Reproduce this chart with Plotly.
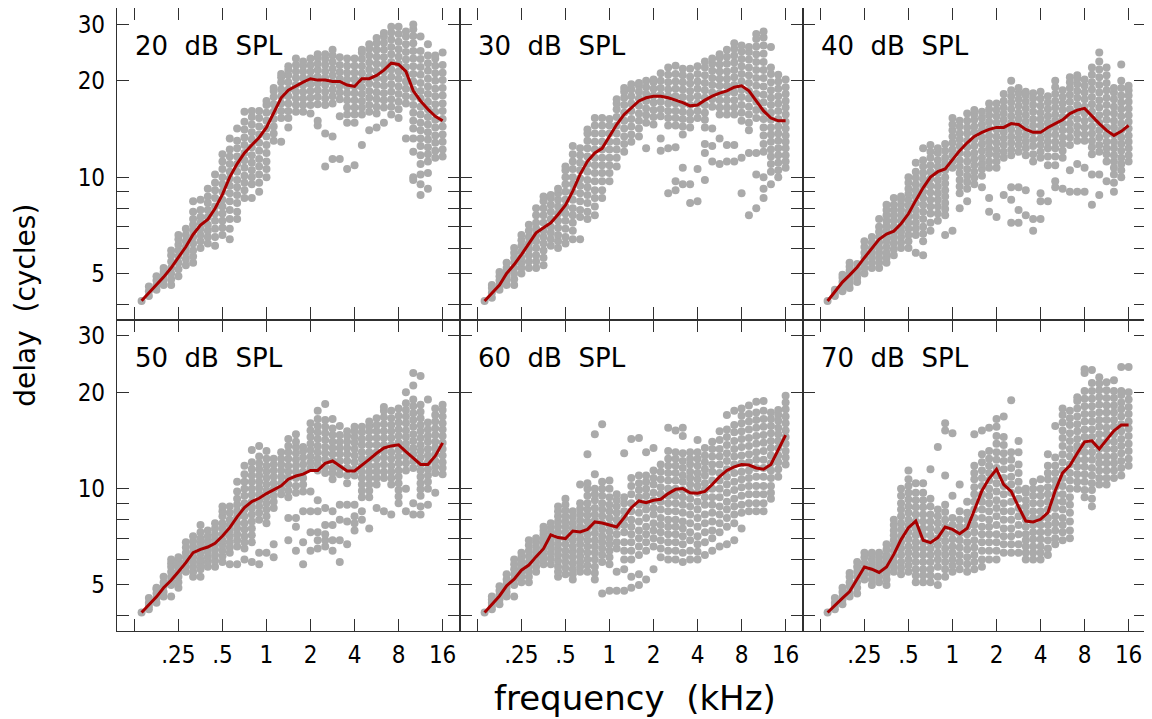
import math
import plotly.graph_objects as go
from plotly.subplots import make_subplots

# ---------------- data ----------------
freq_khz = [0.14, 0.157, 0.177, 0.198, 0.223, 0.25, 0.281, 0.315, 0.354, 0.397,
            0.445, 0.5, 0.561, 0.63, 0.707, 0.794, 0.891, 1.0, 1.12, 1.26,
            1.41, 1.59, 1.78, 2.0, 2.24, 2.52, 2.83, 3.17, 3.56, 4.0,
            4.49, 5.04, 5.66, 6.35, 7.13, 8.0, 8.98, 10.08, 11.31, 12.7,
            14.25, 16.0]

levels = ["20  dB  SPL", "30  dB  SPL", "40  dB  SPL",
          "50  dB  SPL", "60  dB  SPL", "70  dB  SPL"]

x_tick_vals = [0.125, 0.25, 0.5, 1, 2, 4, 8, 16]
x_tick_text = ["", ".25", ".5", "1", "2", "4", "8", "16"]
y_tick_vals = [4, 5, 6, 7, 8, 9, 10, 20, 30]
y_tick_text = ["", "5", "", "", "", "", "10", "20", "30"]

med20 = [4.11, 4.35, 4.6, 4.87, 5.21, 5.6, 6.06, 6.62, 7.08, 7.38, 7.98, 8.83, 10.0, 11.0,
         11.9, 12.6, 13.3, 14.3, 15.9, 17.7, 18.7, 19.3, 19.8, 20.3, 20.1, 20.1, 19.9, 19.9,
         19.4, 19.2, 20.3, 20.3, 20.8, 21.6, 22.7, 22.5, 21.4, 18.6, 17.3, 16.3, 15.5, 15.0]
med30 = [4.1, 4.35, 4.6, 5.0, 5.33, 5.73, 6.19, 6.7, 6.95, 7.2, 7.64, 8.17, 9.04, 10.2,
         11.2, 11.9, 12.3, 13.4, 14.6, 15.7, 16.5, 17.3, 17.7, 17.9, 17.9, 17.7, 17.4, 17.1,
         16.7, 16.8, 17.4, 17.9, 18.3, 18.6, 19.1, 19.3, 18.6, 17.3, 16.1, 15.3, 15.0, 15.0]
med40 = [4.1, 4.4, 4.7, 4.94, 5.23, 5.6, 6.0, 6.39, 6.64, 6.78, 7.15, 7.68, 8.46, 9.26,
         10.0, 10.4, 10.6, 11.3, 12.1, 12.8, 13.4, 13.8, 14.1, 14.3, 14.3, 14.7, 14.6, 14.1,
         13.8, 13.8, 14.3, 14.7, 15.1, 15.8, 16.2, 16.4, 15.5, 14.7, 14.0, 13.5, 13.9, 14.5]
med50 = [4.1, 4.33, 4.59, 4.9, 5.17, 5.5, 5.87, 6.31, 6.46, 6.57, 6.75, 7.11, 7.55, 8.16,
         8.72, 9.11, 9.33, 9.65, 9.9, 10.2, 10.7, 10.95, 11.1, 11.4, 11.4, 12.0, 12.2, 11.8,
         11.35, 11.35, 11.8, 12.35, 12.9, 13.4, 13.6, 13.7, 13.05, 12.5, 11.9, 11.9, 12.65, 13.9]
med60 = [4.1, 4.35, 4.62, 4.97, 5.21, 5.56, 5.77, 6.13, 6.49, 7.17, 7.03, 6.98, 7.37, 7.32,
         7.46, 7.87, 7.81, 7.7, 7.59, 8.12, 8.72, 9.15, 9.04, 9.2, 9.26, 9.65, 9.95, 10.0,
         9.7, 9.67, 9.8, 10.3, 10.9, 11.4, 11.7, 11.9, 11.85, 11.6, 11.5, 11.9, 13.2, 14.7]
med70 = [4.1, 4.33, 4.55, 4.77, 5.21, 5.69, 5.6, 5.47, 5.69, 6.23, 6.93, 7.55, 7.92, 6.9,
         6.78, 7.03, 7.59, 7.46, 7.23, 7.52, 8.56, 9.85, 10.75, 11.5, 10.3, 9.8, 8.77, 7.92,
         7.87, 8.02, 8.41, 9.85, 11.2, 11.8, 12.9, 14.0, 14.1, 13.3, 14.2, 15.15, 15.8, 15.8]

dots20 = [
    [4.1], [4.25, 4.4, 4.55], [4.45, 4.6, 4.75, 4.9], [4.6, 4.75, 4.9, 5.05, 5.2],
    [4.6, 4.8, 5.0, 5.2, 5.45, 5.7, 5.9], [4.9, 5.15, 5.4, 5.65, 5.9, 6.15, 6.4, 6.6],
    [5.3, 5.55, 5.8, 6.05, 6.3, 6.6, 6.9], [5.4, 5.65, 5.9, 6.2, 6.5, 6.8, 7.1, 7.4, 7.8, 8.4],
    [6.0, 6.3, 6.6, 6.9, 7.2, 7.5, 7.9, 8.5], [6.2, 6.5, 6.8, 7.1, 7.5, 7.9, 8.3, 8.7, 9.2],
    [6.1, 6.5, 6.9, 7.3, 7.7, 8.1, 8.6, 9.1, 9.6, 10.2],
    [6.6, 6.95, 7.3, 7.7, 8.1, 8.5, 9.0, 9.5, 10.0, 10.6, 11.2, 11.8],
    [6.4, 6.9, 7.4, 7.9, 8.4, 8.9, 9.4, 9.9, 10.4, 11.0, 11.6, 12.2, 13.2],
    [7.4, 7.8, 8.3, 8.8, 9.3, 9.8, 10.4, 11.0, 11.6, 12.3, 13.0, 14.2],
    [8.6, 9.1, 9.6, 10.1, 10.7, 11.3, 11.9, 12.6, 13.3, 14.1, 14.9, 16.0],
    [8.6, 9.5, 10.0, 10.5, 11.1, 11.7, 12.4, 13.1, 13.8, 14.6, 15.4, 16.1],
    [9.0, 9.6, 10.2, 10.8, 11.4, 12.1, 12.8, 13.6, 14.4, 15.3, 16.1],
    [10.0, 10.6, 11.2, 11.9, 12.6, 13.4, 14.2, 15.0, 15.9, 16.8, 17.3],
    [13.0, 13.7, 14.4, 15.2, 16.0, 16.9, 17.8, 18.6, 19.0],
    [12.9, 15.3, 16.1, 17.0, 17.9, 18.8, 19.8, 20.5, 21.0],
    [14.3, 15.3, 16.1, 17.0, 17.9, 18.8, 19.8, 20.8, 21.6, 22.2],
    [16.0, 16.8, 17.6, 18.5, 19.4, 20.4, 21.4, 22.4, 23.5],
    [16.0, 16.8, 17.6, 18.5, 19.4, 20.4, 21.4, 22.3, 23.0],
    [15.8, 16.8, 17.7, 18.6, 19.5, 20.4, 21.4, 22.4, 23.5],
    [14.5, 15.0, 16.9, 17.8, 18.7, 19.6, 20.6, 21.6, 22.6, 23.6, 24.2],
    [10.8, 13.7, 16.8, 17.6, 18.5, 19.4, 20.4, 21.4, 22.4, 23.4, 24.2],
    [11.4, 13.4, 17.0, 17.9, 18.8, 19.8, 20.8, 21.8, 22.9, 24.0, 25.0],
    [11.4, 15.5, 17.5, 18.4, 19.3, 20.3, 21.3, 22.4, 23.7],
    [10.6, 14.8, 15.7, 16.5, 17.4, 18.3, 19.2, 20.2, 21.2, 22.3, 23.5],
    [10.9, 14.8, 15.7, 16.5, 17.4, 18.3, 19.2, 20.2, 21.2, 22.3, 23.5],
    [12.6, 15.7, 16.5, 17.3, 18.2, 19.1, 20.1, 21.1, 22.2, 23.4, 24.5, 25.0],
    [14.0, 16.0, 16.8, 17.7, 18.6, 19.6, 20.6, 21.7, 22.8, 24.0, 25.2, 26.0],
    [14.3, 15.8, 16.6, 17.5, 18.4, 19.4, 20.4, 21.5, 22.6, 23.8, 25.0, 26.2, 27.2],
    [14.8, 16.5, 17.4, 18.3, 19.3, 20.3, 21.4, 22.5, 23.7, 25.0, 26.3, 27.5, 28.2],
    [15.7, 16.6, 17.5, 18.5, 19.5, 20.6, 21.7, 22.9, 24.2, 25.5, 26.9, 28.3, 29.5],
    [15.3, 16.3, 17.2, 18.2, 19.2, 20.3, 21.4, 22.6, 23.8, 25.1, 26.5, 28.0, 29.5],
    [13.2, 17.0, 17.9, 18.9, 19.9, 21.0, 22.1, 23.3, 24.6, 26.0, 27.5, 28.5],
    [9.8, 10.0, 12.0, 13.2, 14.2, 15.0, 15.9, 16.8, 17.8, 18.8, 19.9, 21.0, 22.2, 23.5,
     24.8, 26.2, 27.6, 29.0, 30.0],
    [8.8, 9.5, 10.2, 11.0, 11.7, 12.5, 13.2, 14.0, 14.8, 15.7, 16.6, 17.6, 18.6, 19.7,
     20.9, 22.1, 23.4, 24.8, 27.5],
    [9.2, 10.3, 11.2, 11.8, 12.4, 13.1, 13.8, 14.6, 15.4, 16.3, 17.2, 18.2, 19.2, 20.3,
     21.5, 22.7, 24.0, 26.0],
    [11.5, 12.1, 12.8, 13.5, 14.3, 15.1, 16.0, 16.9, 17.9, 18.9, 20.0, 21.1, 22.3, 23.5, 24.0],
    [11.6, 12.2, 12.9, 13.6, 14.4, 15.2, 16.1, 17.0, 18.0, 19.0, 20.1, 21.2, 22.4, 24.5],
]

dots30 = [
    [4.1], [4.2, 4.35, 4.5, 4.6], [4.45, 4.6, 4.75, 4.9, 5.05], [4.6, 4.75, 4.9, 5.05, 5.2, 5.4],
    [4.6, 4.8, 5.0, 5.2, 5.4, 5.6, 5.8, 6.0], [5.0, 5.2, 5.4, 5.6, 5.85, 6.1, 6.35, 6.6],
    [5.2, 5.45, 5.7, 5.95, 6.2, 6.5, 6.8, 7.1], [5.2, 5.45, 5.7, 6.0, 6.3, 6.6, 6.9, 7.2, 7.6, 8.0],
    [5.3, 5.6, 5.9, 6.2, 6.5, 6.8, 7.2, 7.6, 8.0, 8.4, 8.7],
    [6.1, 6.4, 6.7, 7.0, 7.4, 7.8, 8.2, 8.6, 8.8],
    [6.0, 6.3, 6.6, 6.95, 7.3, 7.7, 8.1, 8.5, 8.9, 9.2],
    [6.2, 6.5, 6.9, 7.3, 7.7, 8.1, 8.5, 9.0, 9.5, 10.0, 10.5, 10.8],
    [6.4, 6.8, 7.2, 7.6, 8.0, 8.5, 9.0, 9.5, 10.0, 10.6, 11.2, 11.8, 12.5],
    [6.4, 7.5, 7.9, 8.4, 8.9, 9.4, 9.9, 10.5, 11.1, 11.7, 12.3],
    [7.4, 7.8, 8.3, 8.8, 9.3, 9.8, 10.4, 11.0, 11.6, 12.3, 13.0, 13.7, 14.1],
    [7.6, 8.1, 8.6, 9.1, 9.7, 10.3, 10.9, 11.5, 12.2, 12.9, 13.7, 14.5, 15.3],
    [8.6, 9.1, 9.7, 10.3, 10.9, 11.5, 12.2, 12.9, 13.7, 14.5, 15.3],
    [9.7, 10.3, 10.9, 11.5, 12.2, 12.9, 13.7, 14.5, 15.2],
    [10.8, 11.5, 12.2, 12.9, 13.7, 14.5, 15.4, 16.3, 17.0, 17.5],
    [12.0, 12.7, 13.4, 14.2, 15.0, 15.9, 16.8, 17.7, 18.5, 19.0],
    [12.9, 13.6, 14.4, 15.2, 16.1, 17.0, 17.9, 18.8, 19.5],
    [13.4, 14.2, 15.0, 15.8, 16.7, 17.6, 18.5, 19.3, 19.7],
    [12.3, 14.8, 15.6, 16.4, 17.3, 18.2, 19.1, 20.0],
    [14.6, 15.4, 16.2, 17.1, 18.0, 18.9, 19.8, 20.2],
    [12.1, 13.2, 15.5, 16.3, 17.2, 18.1, 19.0, 20.0, 21.1],
    [8.9, 12.3, 14.5, 15.3, 16.1, 17.0, 17.9, 18.8, 19.8, 20.9, 22.0],
    [9.1, 9.7, 12.4, 14.5, 15.3, 16.1, 17.0, 17.9, 18.9, 19.9, 21.0, 22.3],
    [9.5, 10.7, 13.6, 14.4, 15.2, 16.0, 16.9, 17.8, 18.8, 19.8, 20.8, 21.8],
    [8.3, 9.5, 14.3, 15.1, 15.9, 16.8, 17.7, 18.6, 19.6, 20.6, 21.8],
    [8.4, 10.6, 15.3, 16.1, 17.0, 17.9, 18.9, 19.9, 21.0, 22.2],
    [9.8, 11.9, 12.7, 14.3, 15.1, 15.9, 16.8, 17.7, 18.7, 19.7, 20.8, 22.0, 23.0],
    [11.2, 12.5, 14.2, 16.6, 17.5, 18.4, 19.4, 20.4, 21.5, 22.6, 23.5],
    [11.0, 13.2, 15.7, 16.5, 17.4, 18.3, 19.3, 20.3, 21.4, 22.5, 23.6, 24.2],
    [11.2, 12.6, 15.7, 16.5, 17.4, 18.3, 19.3, 20.3, 21.4, 22.6, 23.8, 25.0],
    [11.2, 12.6, 15.7, 16.5, 17.4, 18.4, 19.4, 20.5, 21.6, 22.8, 24.0, 25.2, 26.2],
    [8.9, 11.5, 15.0, 15.9, 16.8, 17.8, 18.8, 19.9, 21.0, 22.2, 23.4, 24.7, 25.8],
    [7.6, 11.9, 14.0, 14.8, 15.7, 16.6, 17.6, 18.6, 19.7, 20.8, 22.0, 23.3, 24.6, 25.5],
    [8.0, 10.2, 11.9, 15.3, 16.2, 17.2, 18.2, 19.3, 20.4, 21.6, 22.9, 24.2, 25.6, 27.0, 28.0],
    [8.6, 9.2, 10.0, 12.0, 12.7, 13.5, 14.3, 15.2, 16.1, 17.1, 18.1, 19.2, 20.4, 21.6,
     22.9, 24.3, 25.8, 27.3, 28.5],
    [9.5, 10.4, 11.0, 11.6, 12.2, 12.9, 13.6, 14.3, 15.1, 15.9, 16.8, 17.7, 18.7, 19.8,
     21.0, 22.0, 25.5],
    [10.0, 10.5, 11.1, 11.7, 12.3, 13.0, 13.7, 14.4, 15.2, 16.1, 17.0, 17.9, 18.9, 19.9, 20.9],
    [10.7, 11.2, 11.7, 12.3, 12.9, 13.5, 14.2, 14.9, 15.7, 16.5, 17.3, 18.2, 19.1, 20.2],
]

dots40 = [
    [4.1], [4.25, 4.35, 4.45], [4.4, 4.55, 4.7, 4.85, 4.95], [4.5, 4.65, 4.8, 4.95, 5.1, 5.25, 5.4],
    [4.7, 4.85, 5.0, 5.15, 5.35], [5.0, 5.2, 5.4, 5.6, 5.8, 6.05, 6.3],
    [5.2, 5.4, 5.6, 5.8, 6.0, 6.25, 6.5], [5.2, 5.4, 5.6, 5.8, 6.0, 6.25, 6.5, 6.75, 7.0, 7.4],
    [5.4, 5.6, 5.8, 6.05, 6.3, 6.55, 6.8, 7.05, 7.3, 7.6, 7.9, 8.2],
    [5.7, 5.95, 6.2, 6.45, 6.7, 7.0, 7.3, 7.6, 7.9, 8.2, 8.6],
    [6.0, 6.25, 6.5, 6.75, 7.0, 7.3, 7.6, 7.9, 8.2, 8.5, 8.7],
    [6.0, 6.3, 6.6, 6.9, 7.2, 7.5, 7.8, 8.15, 8.5, 8.85, 9.2, 9.6, 10.0],
    [5.8, 6.6, 6.9, 7.2, 7.55, 7.9, 8.3, 8.7, 9.1, 9.5, 9.95, 10.4, 11.1],
    [5.7, 6.3, 6.65, 7.0, 7.4, 7.8, 8.2, 8.6, 9.0, 9.4, 9.85, 10.3, 10.8, 11.3, 12.3],
    [6.8, 7.2, 7.7, 8.1, 8.5, 8.95, 9.4, 9.9, 10.4, 10.9, 11.5, 12.0, 12.6],
    [7.3, 7.7, 8.1, 8.5, 8.9, 9.35, 9.8, 10.3, 10.8, 11.3, 11.9, 12.3],
    [6.6, 7.6, 7.95, 8.3, 8.7, 9.1, 9.55, 10.0, 10.5, 11.0, 11.5, 12.1, 12.7],
    [6.8, 10.7, 11.2, 11.7, 12.2, 12.8, 13.4, 14.0, 14.6, 15.3],
    [8.0, 8.9, 9.35, 9.8, 10.3, 10.8, 11.3, 11.9, 12.5, 13.1, 13.7, 14.4, 15.0],
    [8.4, 9.2, 9.65, 10.1, 10.6, 11.2, 11.8, 12.4, 13.0, 13.7, 14.3, 15.0, 15.8],
    [9.5, 9.95, 10.4, 10.9, 11.4, 11.9, 12.5, 13.1, 13.8, 14.4, 15.1, 15.7, 16.2],
    [9.3, 10.1, 10.6, 11.0, 11.5, 12.1, 12.7, 13.3, 14.0, 14.6, 15.3, 16.0],
    [7.8, 8.6, 10.7, 11.2, 11.8, 12.3, 12.9, 13.5, 14.2, 14.9, 15.6, 16.3, 17.0],
    [7.5, 10.7, 11.2, 11.7, 12.2, 12.8, 13.4, 14.1, 14.8, 15.5, 16.2, 17.0],
    [8.8, 11.5, 12.0, 12.6, 13.2, 13.8, 14.4, 15.1, 15.8, 16.5, 17.3, 18.2],
    [7.2, 8.5, 9.3, 11.7, 12.2, 12.8, 13.4, 14.1, 14.8, 15.5, 16.3, 17.1, 17.9, 18.7, 20.0],
    [7.2, 7.9, 9.3, 12.0, 12.6, 13.2, 13.8, 14.5, 15.2, 15.9, 16.7, 17.5, 18.3, 19.0],
    [7.6, 9.1, 11.7, 12.3, 12.9, 13.5, 14.2, 14.9, 15.6, 16.4, 17.2, 18.0, 18.5],
    [6.8, 7.4, 11.2, 11.8, 12.5, 13.1, 13.8, 14.5, 15.2, 16.0, 16.8, 17.6, 18.3],
    [7.4, 8.4, 8.9, 11.5, 12.0, 12.6, 13.2, 13.8, 14.5, 15.2, 15.9, 16.7, 17.6, 18.5],
    [8.4, 10.9, 11.6, 12.3, 12.9, 13.5, 14.1, 14.8, 15.5, 16.3, 17.1, 17.9],
    [9.3, 9.7, 10.9, 11.6, 12.3, 12.9, 13.6, 14.3, 15.0, 15.7, 16.5, 17.3, 18.2, 19.1, 20.0],
    [9.2, 11.5, 12.1, 12.7, 13.3, 14.0, 14.7, 15.4, 16.2, 17.0, 17.8, 18.7],
    [9.0, 10.5, 12.6, 13.3, 14.0, 14.7, 15.5, 16.3, 17.2, 18.1, 19.0, 19.8, 20.5],
    [9.0, 11.0, 13.0, 13.7, 14.4, 15.2, 16.0, 16.8, 17.7, 18.6, 19.5, 20.3, 20.8],
    [9.0, 10.7, 13.0, 13.6, 14.3, 15.0, 15.8, 16.6, 17.5, 18.4, 19.3, 20.2],
    [8.2, 10.2, 11.8, 12.4, 13.0, 13.7, 14.4, 15.2, 16.0, 16.9, 17.8, 18.8, 19.8, 20.9, 22.0],
    [8.8, 10.2, 12.0, 12.6, 13.3, 14.0, 14.8, 15.6, 16.5, 17.4, 18.4, 19.4, 20.5, 21.7,
     23.0, 24.5],
    [9.7, 11.2, 11.8, 12.3, 12.9, 13.6, 14.3, 15.1, 15.9, 16.8, 17.7, 18.7, 19.7, 20.8, 22.0],
    [9.0, 9.6, 10.2, 10.7, 11.2, 11.7, 12.3, 12.9, 13.6, 14.3, 15.0, 15.8, 16.6, 17.5,
     18.4, 19.0],
    [10.0, 10.5, 11.0, 11.5, 12.1, 12.7, 13.3, 14.0, 14.7, 15.5, 16.3, 17.1, 18.0, 19.0,
     20.0, 22.5],
    [11.2, 11.7, 12.3, 12.9, 13.5, 14.2, 14.9, 15.6, 16.4, 17.2, 18.0, 18.7, 19.3],
]

dots50 = [
    [4.1], [4.2, 4.3, 4.4, 4.55], [4.4, 4.55, 4.7, 4.85, 4.9], [4.6, 4.75, 4.95, 5.1, 5.3],
    [4.6, 5.0, 5.15, 5.3, 5.5, 5.7, 5.85, 6.0], [4.9, 5.1, 5.3, 5.5, 5.7, 5.9, 6.1],
    [5.5, 5.7, 5.9, 6.1, 6.3, 6.55, 6.8], [5.3, 5.5, 5.7, 5.9, 6.1, 6.35, 6.6, 6.85, 7.1],
    [5.3, 5.6, 5.8, 6.0, 6.25, 6.5, 6.75, 7.0, 7.3, 7.7],
    [5.7, 5.9, 6.1, 6.35, 6.6, 6.85, 7.1, 7.4],
    [5.7, 5.95, 6.2, 6.45, 6.7, 6.95, 7.2, 7.5, 7.8],
    [5.9, 6.15, 6.4, 6.65, 6.9, 7.2, 7.5, 7.8, 8.2, 8.5, 8.8],
    [5.8, 6.3, 6.55, 6.8, 7.1, 7.4, 7.7, 8.0, 8.4, 8.8],
    [5.8, 6.6, 6.9, 7.2, 7.5, 7.8, 8.15, 8.5, 8.9, 9.3, 9.8, 10.5],
    [6.0, 6.5, 6.8, 7.1, 7.45, 7.8, 8.2, 8.6, 9.0, 9.5, 10.0, 10.5, 11.1, 11.8],
    [5.9, 6.8, 7.15, 7.5, 7.9, 8.3, 8.7, 9.1, 9.55, 10.0, 10.5, 11.0, 11.5, 12.1, 13.2],
    [5.8, 6.3, 8.0, 8.4, 8.8, 9.2, 9.6, 10.05, 10.5, 11.0, 11.5, 12.0, 12.6, 13.6],
    [6.3, 7.8, 8.2, 8.6, 9.0, 9.4, 9.85, 10.3, 10.8, 11.3, 11.8, 12.4, 13.1],
    [6.1, 6.7, 8.7, 9.1, 9.5, 9.95, 10.4, 10.9, 11.4, 11.9, 12.4],
    [9.6, 10.0, 10.4, 10.9, 11.4, 11.9, 12.4, 13.0],
    [6.9, 8.1, 9.4, 9.85, 10.3, 10.8, 11.3, 11.8, 12.4, 13.0, 13.6, 14.3],
    [6.4, 7.6, 8.1, 9.7, 10.2, 10.8, 11.3, 11.8, 12.3, 12.9, 13.5, 14.0, 14.8],
    [5.8, 6.8, 8.5, 9.8, 10.3, 10.8, 11.3, 11.9, 12.5, 13.1, 13.5],
    [6.4, 7.3, 8.5, 9.8, 11.6, 12.1, 12.6, 13.2, 13.8, 14.5, 15.2, 16.0],
    [6.5, 6.9, 7.3, 8.5, 9.2, 11.4, 11.9, 12.4, 13.0, 13.6, 14.3, 15.0, 15.7, 16.5, 17.5],
    [6.6, 6.9, 7.2, 7.7, 8.7, 11.2, 11.7, 12.3, 12.9, 13.5, 14.2, 14.9, 15.6, 16.4, 18.4],
    [6.4, 6.9, 7.7, 8.5, 10.7, 11.2, 11.6, 12.2, 12.8, 13.4, 14.0, 14.7, 15.4, 16.5],
    [5.9, 6.9, 8.0, 8.9, 11.1, 11.6, 12.2, 12.8, 13.4, 14.0, 14.7, 15.7],
    [6.7, 7.9, 8.9, 10.4, 11.0, 11.6, 12.2, 12.8, 13.4, 14.0, 14.6, 15.1],
    [7.4, 7.8, 8.2, 8.9, 11.0, 11.5, 12.1, 12.7, 13.3, 13.9, 14.5, 15.1, 15.6],
    [8.0, 8.5, 9.4, 9.85, 10.3, 10.8, 11.3, 11.8, 12.4, 13.0, 13.7, 14.3, 15.0, 15.6],
    [7.5, 9.4, 9.85, 10.3, 10.8, 11.3, 11.8, 12.4, 13.0, 13.7, 14.4, 15.1, 15.7, 16.2],
    [8.7, 10.3, 10.8, 11.3, 11.8, 12.4, 13.0, 13.7, 14.4, 15.1, 15.8, 16.6],
    [8.5, 10.8, 11.3, 11.9, 12.5, 13.1, 13.7, 14.4, 15.1, 15.9, 16.7, 17.5, 18.0],
    [8.3, 10.3, 10.8, 11.3, 11.8, 12.4, 13.0, 13.7, 14.4, 15.1, 15.8, 16.6, 17.5],
    [9.0, 9.45, 9.9, 10.4, 10.9, 11.4, 12.0, 12.6, 13.2, 13.9, 14.6, 15.3, 16.1, 16.9, 17.8],
    [8.5, 10.0, 11.4, 12.0, 12.6, 13.2, 13.8, 14.5, 15.2, 16.0, 16.8, 17.6, 18.5, 20.0],
    [8.3, 9.0, 11.6, 12.2, 12.8, 13.4, 14.1, 14.8, 15.6, 16.4, 17.2, 18.1, 19.0, 21.0, 23.0],
    [8.3, 8.8, 9.5, 9.95, 10.4, 10.9, 11.4, 11.9, 12.5, 13.1, 13.7, 14.4, 15.1, 15.8,
     16.6, 17.4, 18.3, 22.5],
    [8.9, 10.0, 10.5, 11.0, 11.5, 12.1, 12.7, 13.3, 14.0, 14.6, 15.3, 16.1, 19.0],
    [9.7, 11.2, 11.7, 12.2, 12.8, 13.4, 14.0, 14.7, 15.4, 16.2, 17.0, 17.8],
    [11.1, 11.6, 12.1, 12.7, 13.3, 13.9, 14.6, 15.3, 16.0, 16.8, 17.6, 18.3],
]

dots60 = [
    [4.1], [4.2, 4.3, 4.4, 4.5, 4.6], [4.35, 4.5, 4.65, 4.8, 4.95], [4.6, 4.75, 4.9, 5.05, 5.2, 5.4],
    [4.6, 5.0, 5.2, 5.4, 5.6, 5.8, 6.0], [5.1, 5.3, 5.5, 5.7, 5.9, 6.1, 6.3],
    [5.1, 5.3, 5.5, 5.7, 5.9, 6.15, 6.4, 6.65, 6.9], [5.5, 5.7, 5.9, 6.1, 6.3, 6.55, 6.8, 7.0],
    [5.8, 6.0, 6.2, 6.45, 6.7, 6.95, 7.2, 7.4, 7.6], [5.8, 6.05, 6.3, 6.55, 6.8, 7.05, 7.3, 7.55, 7.8],
    [5.3, 5.5, 5.7, 5.95, 6.2, 6.45, 6.7, 7.0, 7.3, 7.6, 7.9, 8.2, 8.5, 8.8],
    [5.4, 5.65, 5.9, 6.15, 6.4, 6.7, 7.0, 7.3, 7.6, 7.9, 8.2, 8.55, 8.9, 9.3],
    [5.2, 5.4, 5.6, 5.85, 6.1, 6.35, 6.6, 6.9, 7.2, 7.5, 7.8, 8.15, 8.5],
    [5.5, 5.7, 5.9, 6.15, 6.4, 6.7, 7.0, 7.3, 7.6, 7.95, 8.3, 8.65, 9.0, 10.3],
    [5.5, 5.75, 6.0, 6.3, 6.6, 6.9, 7.2, 7.55, 7.9, 8.25, 8.6, 9.0, 9.5, 10.0, 10.4, 12.8],
    [5.2, 5.45, 5.7, 6.0, 6.3, 6.6, 6.9, 7.25, 7.6, 7.95, 8.3, 8.7, 9.2, 9.6, 10.0, 11.1, 14.8],
    [4.7, 5.9, 6.2, 6.5, 6.8, 7.1, 7.45, 7.8, 8.2, 8.6, 9.0, 9.5, 10.0, 10.5, 15.9],
    [4.8, 5.8, 6.1, 6.4, 6.7, 7.0, 7.35, 7.7, 8.1, 8.5, 8.9, 9.4, 10.0, 10.6],
    [4.8, 5.5, 6.5, 6.8, 7.2, 7.6, 8.0, 8.4, 8.8, 9.2, 9.6],
    [4.8, 5.6, 6.0, 6.4, 6.8, 7.3, 7.7, 8.1, 8.5, 9.0, 9.4, 12.9],
    [4.9, 5.3, 6.0, 6.4, 6.8, 7.2, 7.6, 8.0, 8.5, 9.0, 9.6, 10.2, 10.8, 14.3],
    [5.0, 5.4, 6.2, 6.6, 7.0, 7.4, 7.9, 8.4, 8.9, 9.4, 9.9, 10.4, 11.0, 14.4],
    [5.2, 6.4, 6.8, 7.2, 7.6, 8.1, 8.6, 9.0, 9.5, 10.0, 10.5, 11.0, 13.0],
    [5.6, 6.6, 7.0, 7.4, 7.8, 8.3, 8.7, 9.2, 9.7, 10.3, 10.8, 11.4, 13.4],
    [6.1, 6.5, 6.9, 7.3, 7.7, 8.1, 8.6, 9.1, 9.6, 10.1, 10.7, 11.3, 11.9],
    [6.0, 6.4, 6.8, 7.2, 7.6, 8.0, 8.5, 9.0, 9.5, 10.0, 10.6, 11.2, 11.8, 12.4, 13.1, 15.5],
    [6.0, 6.4, 6.8, 7.2, 7.6, 8.0, 8.5, 9.0, 9.5, 10.0, 10.6, 11.2, 11.8, 12.4, 13.0, 15.2],
    [5.9, 6.3, 6.7, 7.1, 7.5, 7.9, 8.4, 8.9, 9.4, 9.9, 10.5, 11.0, 11.6, 12.2, 12.9, 14.6, 15.5],
    [6.0, 6.4, 6.9, 7.3, 7.8, 8.3, 8.8, 9.3, 9.8, 10.3, 10.8, 11.3, 11.9, 12.4, 13.0],
    [6.0, 6.35, 6.7, 7.1, 7.6, 8.1, 8.6, 9.1, 9.7, 10.2, 10.7, 11.2, 11.8, 12.4, 13.0, 14.2],
    [6.2, 6.8, 7.3, 7.8, 8.3, 8.9, 9.4, 9.9, 10.4, 11.0, 11.5, 12.1, 12.7, 13.4],
    [6.4, 7.0, 7.4, 7.9, 8.4, 8.9, 9.4, 10.0, 10.6, 11.3, 11.9, 12.6, 13.3, 14.0],
    [6.6, 7.3, 7.8, 8.3, 8.8, 9.4, 10.0, 10.6, 11.2, 11.9, 12.6, 13.3, 14.2, 15.1],
    [6.7, 7.6, 8.1, 8.6, 9.1, 9.7, 10.3, 10.9, 11.5, 12.2, 12.9, 13.7, 14.5, 15.3, 17.0],
    [6.9, 7.8, 8.3, 8.8, 9.3, 9.9, 10.5, 11.2, 11.9, 12.6, 13.3, 14.1, 15.0, 15.8, 17.5],
    [7.5, 8.4, 8.9, 9.5, 10.1, 10.7, 11.3, 12.0, 12.7, 13.5, 14.3, 15.1, 16.0, 16.9, 17.8],
    [8.5, 9.0, 9.6, 10.2, 10.8, 11.4, 12.1, 12.8, 13.6, 14.4, 15.3, 16.2, 17.1, 18.2],
    [8.5, 9.0, 9.6, 10.2, 10.9, 11.6, 12.3, 13.0, 13.8, 14.6, 15.5, 16.4, 17.3, 18.7],
    [8.5, 9.0, 9.6, 10.2, 10.9, 11.6, 12.3, 13.1, 13.9, 14.7, 15.6, 16.5, 17.5, 18.8],
    [9.3, 9.7, 10.2, 10.8, 11.4, 12.0, 12.7, 13.4, 14.1, 14.9, 15.7, 16.5, 17.3],
    [10.9, 11.5, 12.1, 12.7, 13.4, 14.1, 14.8, 15.5, 16.3, 17.0, 17.6],
    [11.9, 12.5, 13.1, 13.8, 14.5, 15.2, 16.0, 16.8, 17.7, 18.6, 19.5],
]

dots70 = [
    [4.1], [4.2, 4.3, 4.4, 4.55], [4.35, 4.5, 4.6, 4.75, 4.9], [4.6, 4.75, 4.95, 5.1, 5.3, 5.45],
    [4.7, 4.9, 5.1, 5.3, 5.5, 5.7, 5.9], [5.2, 5.4, 5.6, 5.85, 6.1, 6.3],
    [5.0, 5.2, 5.4, 5.6, 5.8, 6.0, 6.2, 6.3], [5.1, 5.3, 5.5, 5.7, 5.9, 6.1, 6.3],
    [5.0, 5.2, 5.4, 5.6, 5.8, 6.0, 6.2, 6.45, 6.7],
    [5.5, 5.7, 5.9, 6.15, 6.4, 6.65, 6.9, 7.15, 7.4, 7.7, 8.0],
    [5.4, 5.65, 5.9, 6.2, 6.5, 6.8, 7.1, 7.45, 7.8, 8.2, 8.6, 9.0, 9.5, 10.0],
    [5.5, 5.75, 6.0, 6.3, 6.6, 6.95, 7.3, 7.65, 8.0, 8.4, 8.8, 9.25, 9.7, 10.2, 10.7, 11.4],
    [5.1, 5.35, 5.6, 5.9, 6.2, 6.5, 6.8, 7.15, 7.5, 7.9, 8.3, 8.75, 9.2, 9.7, 10.4],
    [5.1, 5.35, 5.6, 5.9, 6.2, 6.5, 6.8, 7.15, 7.5, 7.9, 8.3, 8.75, 9.2, 9.7, 10.4],
    [5.1, 5.35, 5.6, 5.9, 6.2, 6.5, 6.8, 7.15, 7.5, 7.9, 8.3, 8.8, 9.3, 11.5],
    [5.0, 5.3, 5.7, 6.0, 6.3, 6.65, 7.0, 7.4, 7.8, 8.2, 8.6, 13.5],
    [5.3, 5.6, 5.9, 6.2, 6.5, 6.85, 7.2, 7.6, 8.0, 8.45, 8.9, 11.0, 15.2, 16.0],
    [5.5, 5.75, 6.0, 6.3, 6.6, 6.95, 7.3, 7.7, 8.1, 9.5, 14.9],
    [5.6, 5.9, 6.2, 6.55, 6.9, 7.25, 7.6, 8.0, 8.5, 10.3],
    [5.5, 5.8, 6.1, 6.45, 6.8, 7.2, 7.6, 8.0, 8.4, 9.1],
    [5.6, 5.9, 6.2, 6.55, 6.9, 7.3, 7.7, 8.1, 8.6, 9.1, 9.6, 10.1, 10.7, 11.2, 11.8, 14.8],
    [5.7, 6.0, 6.4, 6.8, 7.2, 7.6, 8.1, 8.6, 9.1, 9.6, 10.2, 10.8, 11.4, 12.1, 12.8, 15.2],
    [6.0, 6.4, 6.8, 7.2, 7.6, 8.0, 8.5, 9.0, 9.5, 10.0, 10.6, 11.2, 11.8, 12.4, 13.1, 15.5],
    [6.0, 6.4, 6.8, 7.2, 7.7, 8.2, 8.7, 9.2, 9.8, 10.4, 11.0, 11.6, 12.3, 13.0, 13.8, 14.6,
     15.6, 16.5],
    [6.3, 6.7, 7.1, 7.5, 8.0, 8.5, 9.0, 9.6, 10.2, 10.8, 11.5, 12.2, 12.9, 13.7, 14.5, 16.8],
    [6.3, 6.7, 7.1, 7.5, 8.0, 8.5, 9.1, 9.7, 10.3, 10.9, 11.6, 12.3, 13.0, 18.9],
    [6.3, 6.7, 7.2, 7.7, 8.2, 8.7, 9.3, 9.9, 10.5, 11.2, 11.9, 13.0, 14.1],
    [6.0, 6.3, 6.6, 6.9, 7.2, 7.6, 8.0, 8.4, 8.8, 9.2, 9.7, 10.0],
    [6.0, 6.3, 6.6, 6.95, 7.3, 7.7, 8.1, 8.5, 9.0, 9.5, 10.0, 10.5],
    [6.0, 6.3, 6.6, 6.95, 7.3, 7.7, 8.1, 8.5, 9.0, 9.5, 10.0, 10.7],
    [6.2, 6.5, 6.9, 7.3, 7.7, 8.1, 8.6, 9.1, 9.6, 10.1, 10.7, 11.2, 11.8, 12.8],
    [6.7, 7.0, 7.4, 7.8, 8.2, 8.7, 9.1, 9.6, 10.1, 10.6, 11.2, 11.8, 12.5, 15.7],
    [6.9, 7.3, 7.7, 8.1, 8.6, 9.1, 9.6, 10.2, 10.8, 11.4, 12.1, 12.8, 13.6, 14.4, 15.2,
     16.1, 17.0, 17.8],
    [7.0, 7.4, 7.9, 8.4, 8.9, 9.4, 10.0, 10.6, 11.2, 11.9, 12.6, 13.3, 14.1, 14.9, 15.8,
     16.6, 17.5],
    [10.0, 10.5, 11.1, 11.7, 12.3, 13.0, 13.6, 14.3, 15.1, 15.9, 16.8, 17.8, 18.8, 19.3],
    [9.4, 9.9, 10.5, 11.1, 11.7, 12.3, 13.0, 13.7, 14.5, 15.3, 16.2, 17.1, 18.1, 19.1,
     20.2, 23.0, 23.6],
    [8.8, 9.3, 9.9, 10.4, 11.0, 11.6, 12.3, 13.0, 13.7, 14.5, 15.3, 16.2, 17.1, 18.1,
     19.1, 20.2, 21.4, 23.5],
    [10.3, 10.8, 11.4, 12.0, 12.6, 13.3, 14.0, 14.8, 15.6, 16.4, 17.3, 18.3, 19.3, 20.3,
     21.3, 22.3],
    [10.3, 10.8, 11.4, 12.0, 12.6, 13.3, 14.0, 14.8, 15.5, 16.4, 17.3, 18.2, 19.2, 20.3, 21.5],
    [10.8, 11.4, 12.0, 12.6, 13.3, 14.0, 14.8, 15.6, 16.4, 17.3, 18.2, 19.2, 20.2, 21.8],
    [11.0, 11.6, 12.2, 12.9, 13.6, 14.3, 15.1, 15.9, 16.8, 17.7, 18.6, 19.6, 20.2, 24.0],
    [11.8, 12.4, 13.1, 13.8, 14.6, 15.4, 16.2, 17.1, 18.0, 19.0, 20.0, 24.0],
]

medians = [med20, med30, med40, med50, med60, med70]
dots_all = [dots20, dots30, dots40, dots50, dots60, dots70]
for m, d in zip(medians, dots_all):
    assert len(m) == len(freq_khz), len(m)
    assert len(d) == len(freq_khz), len(d)

# ---------------- style ----------------
DOT = "#aaaaaa"
RED = "#a80000"
AX = "#303030"
TICKFONT = "DejaVu Sans Condensed, DejaVu Sans, sans-serif"
TEXTFONT = "DejaVu Sans, sans-serif"

# page body has an 8px margin: figure drawn from (8, 8) so it ends at the window edge
FIG_W, FIG_H = 1144, 711

fig = make_subplots(rows=2, cols=3, horizontal_spacing=0, vertical_spacing=0)

x_range = [math.log10(0.125) - 0.395 * math.log10(2), math.log10(16) + 0.395 * math.log10(2)]
y_range = [math.log10(3.59), math.log10(33.77)]

for i in range(6):
    r, c = i // 3 + 1, i % 3 + 1
    xs, ys = [], []
    for f, col in zip(freq_khz, dots_all[i]):
        for v in col:
            xs.append(f)
            ys.append(v)
    fig.add_trace(go.Scatter(x=xs, y=ys, mode="markers",
                             marker=dict(size=8, color=DOT, line=dict(width=0)),
                             showlegend=False, hoverinfo="skip"), row=r, col=c)
    fig.add_trace(go.Scatter(x=freq_khz, y=medians[i], mode="lines",
                             line=dict(color=RED, width=3),
                             showlegend=False), row=r, col=c)
    fig.update_xaxes(type="log", range=x_range, tickvals=x_tick_vals, ticktext=x_tick_text,
                     showticklabels=(r == 2), ticks="inside", ticklen=12, tickwidth=1.2,
                     tickcolor=AX, showline=True, linecolor=AX, linewidth=1.2,
                     mirror="allticks", showgrid=False, zeroline=False, automargin=False,
                     tickfont=dict(family=TICKFONT, size=24, color="black"),
                     ticklabelstandoff=2, row=r, col=c)
    fig.update_yaxes(type="log", range=y_range, tickvals=y_tick_vals, ticktext=y_tick_text,
                     showticklabels=(c == 1), ticks="inside", ticklen=12, tickwidth=1.2,
                     tickcolor=AX, showline=True, linecolor=AX, linewidth=1.2,
                     mirror="allticks", showgrid=False, zeroline=False, automargin=False,
                     tickfont=dict(family=TICKFONT, size=24, color="black"),
                     ticklabelstandoff=6, row=r, col=c)
    xref = "x domain" if i == 0 else f"x{i+1} domain"
    yref = "y domain" if i == 0 else f"y{i+1} domain"
    fig.add_annotation(text=levels[i], xref=xref, yref=yref, x=0.048, y=0.877,
                       xanchor="left", yanchor="middle", showarrow=False,
                       font=dict(family=TEXTFONT, size=26, color="black"))

fig.add_annotation(text="frequency  (kHz)", xref="paper", yref="paper", x=0.503, y=-0.1075,
                   xanchor="center", yanchor="middle", showarrow=False,
                   font=dict(family=TEXTFONT, size=34, color="black"))
fig.add_annotation(text="delay  (cycles)", xref="paper", yref="paper", x=-0.0888, y=0.523,
                   xanchor="center", yanchor="middle", showarrow=False, textangle=-90,
                   font=dict(family=TEXTFONT, size=28, color="black"))

fig.update_layout(width=FIG_W, height=FIG_H, margin=dict(l=109, r=6, t=0, b=88),
                  paper_bgcolor="white", plot_bgcolor="white")

fig.write_html("out.html")
